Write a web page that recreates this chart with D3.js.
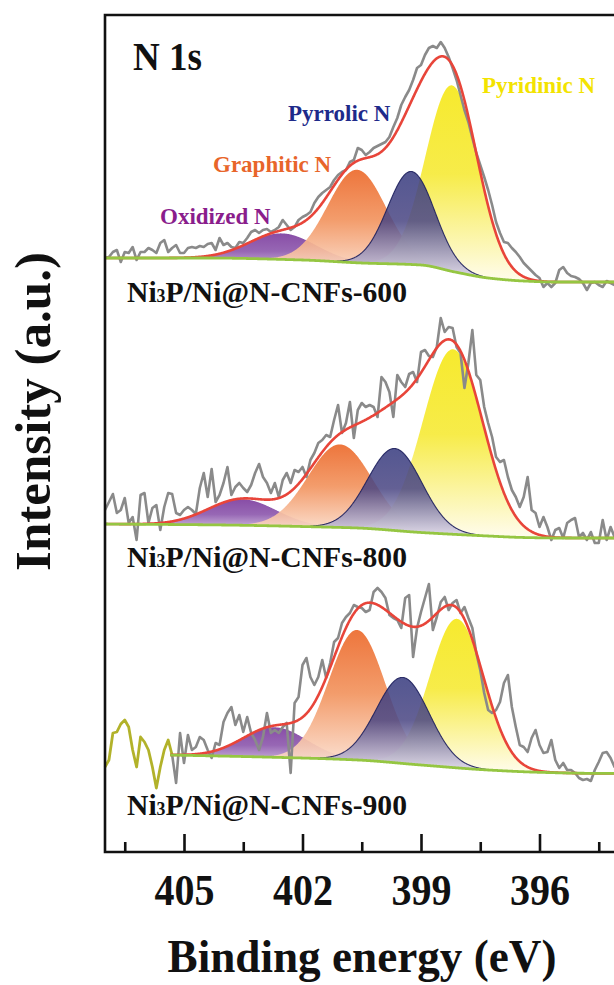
<!DOCTYPE html>
<html>
<head>
<meta charset="utf-8">
<script src="https://cdn.jsdelivr.net/npm/d3@7"></script>
<style>
  html, body { margin: 0; padding: 0; background: #fff; }
  svg { display: block; }
  text { font-family: "Liberation Serif", "Times New Roman", serif; font-weight: bold; }
</style>
</head>
<body>
<svg id="chart" width="614" height="985"></svg>
<script>
// ---------------- data ----------------
// energy grid of the measured spectra (eV), high -> low binding energy
const energyStart = 407.0;
const energyStep = 0.1;

const sampleNames = ["Ni3P/Ni@N-CNFs-600", "Ni3P/Ni@N-CNFs-800", "Ni3P/Ni@N-CNFs-900"];
const componentNames = ["Oxidized N", "Graphitic N", "Pyrrolic N", "Pyridinic N"];

// vertical stacking offsets of the three spectra (a.u.)
const offsets = [570, 314, 78];
// low-energy start of each fit window (eV)
const fitStart = [407.0, 407.0, 405.35];

// fitted components: centre (eV), FWHM (eV), height above background (a.u.)
const centers600 = [402.52, 400.62, 399.25, 398.21];
const fwhm600    = [1.97, 1.73, 1.40, 1.55];
const heights600 = [26, 93, 93, 186];

const centers800 = [403.53, 401.05, 399.66, 398.19];
const fwhm800    = [2.03, 1.91, 1.61, 1.79];
const heights800 = [26, 83, 82, 185];

const centers900 = [402.70, 400.62, 399.46, 398.09];
const fwhm900    = [1.91, 1.68, 1.58, 1.61];
const heights900 = [30, 130, 86, 149];

// background knots (eV, a.u.)
const bgEnergy600 = [407.0, 404.5, 402.0, 400.5, 399.0, 398.14, 397.3, 396.4, 395.6, 394.0];
const bgLevel600  = [24, 24, 22, 19, 17, 10, 4, 1, 0, 0];
const bgEnergy800 = [407.0, 404.0, 401.5, 400.6, 399.0, 397.3, 396.4, 395.5, 394.0];
const bgLevel800  = [14, 13, 11, 10, 5.5, 2, 0.5, 0, 0];
const bgEnergy900 = [405.35, 403.0, 400.6, 399.0, 397.3, 396.0, 394.8, 394.0];
const bgLevel900  = [19, 17, 14, 9, 4, 1.7, 0.7, 0.5];

// measured counts on the energy grid (a.u.)
const raw600 = [
  24,25,30,32,20,30,29,35,22,30, 30,34,32,29,39,42,30,34,37,29,
  29,34,35,34,36,35,38,39,32,44, 37,39,35,34,40,39,44,50,52,49,
  52,53,50,52,55,62,57,52,55,62, 65,67,70,79,85,89,92,95,102,107,
  110,112,120,122,134,
  132,127,130,134,136,138,140,145,155,164, 177,185,192,202,214,217,227,234,236,234,
  240,234,225,214,202,187,172,160,144,129, 117,105,92,77,60,49,40,39,34,30,
  25,19,15,11,7,4,-5,-1,-5,-1, 12,15,9,6,5,3,-1,-8,-1,0,
  -3,-5,1,-1,-3,-2
];
const raw800 = [
  28,36,44,25,28,40,15,21,-2,43, 45,15,30,33,8,31,45,44,25,23,
  28,31,28,24,50,65,41,69,36,43, 55,71,43,51,55,50,46,53,65,74,
  61,55,45,55,41,58,65,55,68,66, 71,61,78,85,95,98,103,101,118,133,
  105,115,136,100,128,
  135,131,133,131,121,161,156,146,121,163, 156,151,164,166,156,186,188,182,181,191,
  220,206,211,210,191,185,150,175,208,163, 158,131,115,101,81,76,78,61,48,41,
  31,41,61,28,25,11,21,11,-2,8, 10,0,15,18,20,1,5,-2,6,-5,
  -5,18,-2,11,1,-2
];
const raw900 = [
  7,14,41,42,50,54,47,24,7,37, 32,24,7,-14,7,24,34,19,-9,41,
  11,39,24,27,37,34,24,16,31,29, 52,61,67,49,59,42,57,41,34,24,
  37,61,41,44,41,47,51,1,71,77, 109,116,97,89,97,114,96,111,132,136,
  151,157,161,169,167,
  166,162,164,182,186,182,176,159,156,154, 146,176,179,117,146,162,176,190,144,157,
  172,177,164,171,174,161,167,156,146,121, 104,81,64,61,64,72,91,99,67,47,
  29,27,22,36,44,29,21,22,34,14, 6,11,4,4,1,-4,-6,-5,-7,4,
  12,21,22,16,7,4
];

// axis ticks (eV)
const majorTicks = [405, 402, 399, 396];
const minorTicks = [406.5, 403.5, 400.5, 397.5, 394.5];

// ---------------- drawing ----------------
const svg = d3.select("#chart");
const frameLeft = 105, frameTop = 15, frameBottom = 852;

const x = d3.scaleLinear().domain([407, 394]).range([frameLeft, 618.5]);
const y = d3.scaleLinear().domain([0, 840]).range([frameBottom, 12]);

const panels = [
  { name: sampleNames[0], offset: offsets[0], start: fitStart[0], centers: centers600, fwhm: fwhm600, heights: heights600, bgE: bgEnergy600, bgV: bgLevel600, raw: raw600, labelY: 302 },
  { name: sampleNames[1], offset: offsets[1], start: fitStart[1], centers: centers800, fwhm: fwhm800, heights: heights800, bgE: bgEnergy800, bgV: bgLevel800, raw: raw800, labelY: 567 },
  { name: sampleNames[2], offset: offsets[2], start: fitStart[2], centers: centers900, fwhm: fwhm900, heights: heights900, bgE: bgEnergy900, bgV: bgLevel900, raw: raw900, labelY: 815 }
];

// fill colours for the components: [top, middle, bottom]
const compFill = [
  ["#7e3e9f", "#8e5aae", "#dccbe8"],
  ["#ec6a2c", "#f2945f", "#fce6da"],
  ["#373b7f", "#4a4683", "#e2dcee"],
  ["#f6e81c", "#f6ea3a", "#fffcec"]
];
const compOpacity = [0.92, 0.92, 0.86, 0.92];
// purple, orange and yellow first; the pyrrolic band is laid over its neighbours
const drawOrder = [0, 1, 3, 2];
const labelColors = ["#8a1d8c", "#e8652a", "#1e2a8a", "#f3e300"];

// monotone cubic interpolation through the background knots
function monotone(xs, ys) {
  const n = xs.length, m = [], t = [];
  for (let i = 0; i < n - 1; i++) m[i] = (ys[i + 1] - ys[i]) / (xs[i + 1] - xs[i]);
  t[0] = m[0]; t[n - 1] = m[n - 2];
  for (let i = 1; i < n - 1; i++) {
    if (m[i - 1] * m[i] <= 0) t[i] = 0;
    else {
      const h0 = xs[i] - xs[i - 1], h1 = xs[i + 1] - xs[i];
      t[i] = 3 * (h0 + h1) / ((2 * h1 + h0) / m[i - 1] + (h1 + 2 * h0) / m[i]);
    }
  }
  return v => {
    if (v <= xs[0]) return ys[0];
    if (v >= xs[n - 1]) return ys[n - 1];
    let i = 0;
    while (i < n - 2 && v > xs[i + 1]) i++;
    const h = xs[i + 1] - xs[i], s = (v - xs[i]) / h;
    const h00 = 2 * s * s * s - 3 * s * s + 1, h10 = s * s * s - 2 * s * s + s;
    const h01 = -2 * s * s * s + 3 * s * s, h11 = s * s * s - s * s;
    return h00 * ys[i] + h10 * h * t[i] + h01 * ys[i + 1] + h11 * h * t[i + 1];
  };
}

const gauss = (e, c, w, h) => h * Math.exp(-4 * Math.LN2 * ((e - c) / w) ** 2);

// gradients
const defs = svg.append("defs");
compFill.forEach((c, i) => {
  const g = defs.append("linearGradient").attr("id", "comp" + i)
    .attr("x1", 0).attr("y1", 0).attr("x2", 0).attr("y2", 1);
  g.append("stop").attr("offset", "0%").attr("stop-color", c[0]);
  g.append("stop").attr("offset", "45%").attr("stop-color", c[1]);
  g.append("stop").attr("offset", "100%").attr("stop-color", c[2]);
});

const plot = svg.append("g");

panels.forEach((p, pi) => {
  const bgFn = monotone(p.bgE.map(e => -e), p.bgV);
  const bg = e => bgFn(-e);
  const grid = d3.range(Math.round(p.start * 100), 39400 - 1, -1).map(v => v / 100);

  // component fills
  drawOrder.forEach(i => {
    const c = p.centers[i], w = p.fwhm[i], h = p.heights[i];
    const pts = grid.filter(e => Math.abs(e - c) < 2.3 * w);
    const area = d3.area()
      .x(e => x(e))
      .y0(e => y(p.offset + bg(e)))
      .y1(e => y(p.offset + bg(e) + gauss(e, c, w, h)));
    plot.append("path").datum(pts)
      .attr("d", area)
      .attr("fill", "url(#comp" + i + ")")
      .attr("fill-opacity", compOpacity[i]);
    if (i === 2) {
      const edge = d3.line().x(e => x(e)).y(e => y(p.offset + bg(e) + gauss(e, c, w, h)));
      plot.append("path").datum(pts.filter(e => gauss(e, c, w, h) > 0.6))
        .attr("d", edge).attr("fill", "none")
        .attr("stroke", "#1d1f5c").attr("stroke-width", 1.1).attr("stroke-opacity", 0.9);
    }
  });

  // measured spectrum
  const rawPts = p.raw.map((v, k) => ({ e: energyStart - k * energyStep, v }));
  const rawLine = d3.line().x(d => x(d.e)).y(d => y(p.offset + d.v));
  const inFit = rawPts.filter(d => d.e <= p.start + 1e-6);
  const outFit = rawPts.filter(d => d.e >= p.start - 0.1 - 1e-6);
  plot.append("path").datum(inFit).attr("d", rawLine)
    .attr("fill", "none").attr("stroke", "#8a8a8a").attr("stroke-width", 2.6)
    .attr("stroke-linejoin", "round");
  if (p.start < energyStart) {
    plot.append("path").datum(outFit).attr("d", rawLine)
      .attr("fill", "none").attr("stroke", "#b2b22a").attr("stroke-width", 2.8)
      .attr("stroke-linejoin", "round");
  }

  // envelope
  const env = d3.line().x(e => x(e))
    .y(e => y(p.offset + bg(e) + d3.sum(p.centers, (c, i) => gauss(e, c, p.fwhm[i], p.heights[i]))));
  plot.append("path").datum(grid).attr("d", env)
    .attr("fill", "none").attr("stroke", "#e8453a").attr("stroke-width", 2.6);

  // background
  const bgLine = d3.line().x(e => x(e)).y(e => y(p.offset + bg(e)));
  plot.append("path").datum(grid).attr("d", bgLine)
    .attr("fill", "none").attr("stroke", "#95c642").attr("stroke-width", 2.8);

  // sample label with subscript
  const lbl = svg.append("text").attr("x", 127).attr("y", p.labelY)
    .attr("font-size", 30).attr("fill", "#111")
    .attr("textLength", 280).attr("lengthAdjust", "spacingAndGlyphs");
  lbl.append("tspan").text(p.name.slice(0, 2));
  lbl.append("tspan").attr("font-size", 18).text(p.name.slice(2, 3));
  lbl.append("tspan").text(p.name.slice(3));
});

// component labels (top spectrum)
const compLabelPos = [[160, 224], [213, 172], [288, 121], [482, 93]];
componentNames.forEach((n, i) => {
  svg.append("text").attr("x", compLabelPos[i][0]).attr("y", compLabelPos[i][1])
    .attr("font-size", 23).attr("fill", labelColors[i]).text(n);
});

// frame (right side runs past the page edge)
svg.append("path")
  .attr("d", `M640,${frameTop}H${frameLeft}V${frameBottom}H640`)
  .attr("fill", "none").attr("stroke", "#111").attr("stroke-width", 2.6);

// x axis
const axisMajor = d3.axisBottom(x).tickValues(majorTicks).tickSize(-18).tickSizeOuter(0)
  .tickFormat(d3.format("d"));
const gx = svg.append("g").attr("transform", `translate(0,${frameBottom})`).call(axisMajor);
gx.select(".domain").remove();
gx.selectAll(".tick line").attr("stroke", "#111").attr("stroke-width", 2.6);
gx.selectAll(".tick text")
  .attr("y", 53).attr("dy", null)
  .attr("font-size", 44).attr("fill", "#111")
  .attr("font-family", "Liberation Serif, serif").attr("font-weight", "bold")
  .attr("textLength", 60).attr("lengthAdjust", "spacingAndGlyphs");

const axisMinor = d3.axisBottom(x).tickValues(minorTicks).tickSize(-10).tickSizeOuter(0).tickFormat("");
const gm = svg.append("g").attr("transform", `translate(0,${frameBottom})`).call(axisMinor);
gm.select(".domain").remove();
gm.selectAll(".tick line").attr("stroke", "#111").attr("stroke-width", 2.6);

// titles
svg.append("text").attr("x", 133).attr("y", 70).attr("font-size", 40).attr("fill", "#111")
  .attr("textLength", 69).attr("lengthAdjust", "spacingAndGlyphs").text("N 1s");

svg.append("text").attr("x", 362).attr("y", 972).attr("text-anchor", "middle")
  .attr("font-size", 47).attr("fill", "#111")
  .attr("textLength", 389).attr("lengthAdjust", "spacingAndGlyphs")
  .text("Binding energy (eV)");

svg.append("text").attr("transform", "translate(50,411.5) rotate(-90)")
  .attr("text-anchor", "middle").attr("font-size", 51).attr("fill", "#111")
  .text("Intensity (a.u.)");
</script>
</body>
</html>
